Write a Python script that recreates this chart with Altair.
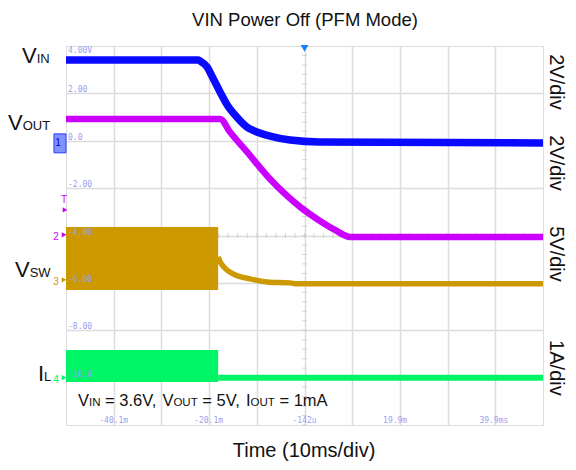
import altair as alt
import pandas as pd

# ---------------- data (time in ms, value in scope display units: 2 units / div) -------------
vin_t = [-50, -22.3, -21.9, -20.4, -19.2, -17.7, -16.2, -14.2, -12.1, -10.0, -7.2, -3.0, 3.2, 50]
vin_v = [3.41, 3.41, 3.37, 3.11, 2.65, 2.06, 1.51, 1.00, 0.58, 0.37, 0.20, 0.03, -0.05, -0.09]

vout_t = [-50, -17.7, -15.62, -12.05, -7.23, -4.09, -0.94, 3.25, 6.39, 9.54, 50]
vout_v = [0.92, 0.92, 0.371, -0.473, -1.612, -2.245, -2.793, -3.384, -3.764, -4.059, -4.059]

vsw_burst_t = [-50, -18.1]
vsw_burst_top = [-3.64, -3.64]
vsw_burst_bot = [-6.30, -6.30]
vsw_t = [-18.1, -17.7, -15.0, -11.4, -7.9, -3.0, -1.6, 50]
vsw_v = [-4.90, -5.11, -5.62, -5.83, -5.96, -6.00, -6.04, -6.04]

il_burst_t = [-50, -18.1]
il_burst_top = [-8.83, -8.83]
il_burst_bot = [-10.18, -10.18]
il_t = [-18.1, 50]
il_v = [-10.0, -10.0]

# scope graticule labels
ylab_text = ["4.00V", "2.00", "0.0", "-2.00", "-4.00", "-6.00", "-8.00", "-10.0"]
ylab_pos = [3.66, 2, 0, -2, -4, -6, -8, -10]
xlab_text = ["-40.1m", "-20.1m", "-142u", "19.9m", "39.9ms"]
xlab_pos = [-40.0, -20.1, 0.0, 19.0, 39.7]

grid_x = [-40, -30, -20, -10, 0, 10, 20, 30, 40]
grid_y = [2, 0, -2, -4, -6, -8, -10]
minor_y = [round(-12 + 0.4 * i, 2) for i in range(41)]
minor_x = [-50 + 2 * i for i in range(51)]

# channel labels (left), scale labels (right)
left_text = ["V", "IN", "V", "OUT", "V", "SW", "I", "L"]
left_size = [22, 13, 22, 13, 22, 13, 22, 13]
left_x = [-59.22, -56.14, -62.16, -59.08, -60.69, -57.61, -55.87, -54.59]
left_y = [3.283, 3.283, 0.456, 0.456, -5.747, -5.747, -10.135, -10.135]

right_text = ["2V/div", "2V/div", "5V/div", "1A/div"]
right_y = [2.48, -0.94, -4.78, -9.59]

cond_text = ["V", "IN", "= 3.6V,", "V", "OUT", "= 5V,", "I", "OUT", "= 1mA"]
cond_size = [16.5, 11.5, 16.5, 16.5, 11.5, 16.5, 16.5, 11.5, 16.5]
cond_x = [-47.48, -45.18, -41.80, -29.79, -27.48, -21.43, -12.28, -11.32, -5.26]

C_VIN, C_VOUT, C_VSW, C_IL = "#0a0aff", "#cc00ff", "#cc9900", "#00f566"
FONT = "Liberation Sans"
MONO = "DejaVu Sans Mono"

X = alt.Scale(domain=[-50, 50], nice=False, zero=False)
Y = alt.Scale(domain=[-12, 4], nice=False, zero=False)

xaxis = alt.Axis(values=grid_x, grid=True, labels=False, ticks=False, domain=False, title=None,
                 gridColor="#dcdcdc", gridWidth=1.5)
yaxis = alt.Axis(values=grid_y, grid=True, labels=False, ticks=False, domain=False, title=None,
                 gridColor="#dcdcdc", gridWidth=1.5)

base = alt.Chart(pd.DataFrame({"t": grid_x})).mark_point(opacity=0).encode(
    x=alt.X("t:Q", scale=X, axis=xaxis),
    y=alt.Y("t:Q", scale=Y, axis=yaxis),
)

ticks_v = alt.Chart(pd.DataFrame({"y": minor_y, "x": 0})).mark_tick(
    orient="horizontal", size=5, thickness=1, color="#c4c4c4").encode(
    x=alt.X("x:Q", scale=X), y=alt.Y("y:Q", scale=Y))
ticks_h = alt.Chart(pd.DataFrame({"x": minor_x, "y": -4})).mark_tick(
    orient="vertical", size=5, thickness=1, color="#c4c4c4").encode(
    x=alt.X("x:Q", scale=X), y=alt.Y("y:Q", scale=Y))

def line(t, v, color, width):
    return alt.Chart(pd.DataFrame({"t": t, "v": v})).mark_line(
        color=color, strokeWidth=width, strokeCap="butt", strokeJoin="round", clip=True,
        interpolate="monotone").encode(
        x=alt.X("t:Q", scale=X), y=alt.Y("v:Q", scale=Y), order="t:Q")

def band(t, top, bot, color):
    return alt.Chart(pd.DataFrame({"t": t, "a": top, "b": bot})).mark_area(
        color=color, opacity=1, clip=True).encode(
        x=alt.X("t:Q", scale=X), y=alt.Y("a:Q", scale=Y), y2="b:Q")

vsw_band = band(vsw_burst_t, vsw_burst_top, vsw_burst_bot, C_VSW)
vsw_line = line(vsw_t, vsw_v, C_VSW, 5.5)
il_band = band(il_burst_t, il_burst_top, il_burst_bot, C_IL)
il_line = line(il_t, il_v, C_IL, 6)
vout_line = line(vout_t, vout_v, C_VOUT, 6.5)
vin_line = line(vin_t, vin_v, C_VIN, 7.5)

ylabels = alt.Chart(pd.DataFrame({"t": ylab_text, "y": ylab_pos, "x": -49.58})).mark_text(
    align="left", baseline="alphabetic", dy=-1, font=MONO, fontSize=8, color="#9c9cf2").encode(
    x=alt.X("x:Q", scale=X), y=alt.Y("y:Q", scale=Y), text="t:N")
xlabels = alt.Chart(pd.DataFrame({"t": xlab_text, "x": xlab_pos, "y": -11.91})).mark_text(
    align="center", baseline="alphabetic", font=MONO, fontSize=8, color="#9c9cf2").encode(
    x=alt.X("x:Q", scale=X), y=alt.Y("y:Q", scale=Y), text="t:N")

# channel markers on the left edge
mk = pd.DataFrame({
    "x": [-50.21, -50.42, -50.42, -50.42],
    "y": [-2.92, -3.97, -5.87, -10.0],
    "c": [C_VOUT, C_VOUT, C_VSW, C_IL],
})
markers = alt.Chart(mk).mark_point(shape="triangle-right", filled=True, size=28, opacity=1).encode(
    x=alt.X("x:Q", scale=X), y=alt.Y("y:Q", scale=Y), color=alt.Color("c:N", scale=None))
mk_txt = pd.DataFrame({
    "t": ["T", "2", "3", "4", "1"],
    "x": [-50.42, -52.10, -52.10, -52.10, -51.68],
    "y": [-2.62, -4.19, -6.08, -10.22, -0.24],
    "c": [C_VOUT, C_VOUT, C_VSW, C_IL, "#0000c8"],
})
marker_text = alt.Chart(mk_txt).mark_text(font=FONT, fontSize=10, align="center", baseline="alphabetic").encode(
    x=alt.X("x:Q", scale=X), y=alt.Y("y:Q", scale=Y), text="t:N", color=alt.Color("c:N", scale=None))
ch1_box = alt.Chart(pd.DataFrame({"x": [-52.52], "x2": [-50.0], "y": [0.29], "y2": [-0.51]})).mark_rect(
    fill="#8191ff", stroke="#2a3cff", strokeWidth=1).encode(
    x=alt.X("x:Q", scale=X), x2="x2:Q", y=alt.Y("y:Q", scale=Y), y2="y2:Q")
trig = alt.Chart(pd.DataFrame({"x": [0], "y": [3.9]})).mark_point(
    shape="triangle-down", filled=True, size=60, color="#1a7fff", opacity=1).encode(
    x=alt.X("x:Q", scale=X), y=alt.Y("y:Q", scale=Y))

left = alt.Chart(pd.DataFrame({"t": left_text, "s": left_size, "x": left_x, "y": left_y})).mark_text(
    align="left", baseline="alphabetic", font=FONT, color="#111111").encode(
    x=alt.X("x:Q", scale=X), y=alt.Y("y:Q", scale=Y), text="t:N", size=alt.Size("s:Q", scale=None))
right = alt.Chart(pd.DataFrame({"t": right_text, "y": right_y, "x": 52.8})).mark_text(
    align="center", baseline="middle", angle=90, font=FONT, fontSize=20, color="#111111").encode(
    x=alt.X("x:Q", scale=X), y=alt.Y("y:Q", scale=Y), text="t:N")
cond = alt.Chart(pd.DataFrame({"t": cond_text, "s": cond_size, "x": cond_x, "y": -11.19})).mark_text(
    align="left", baseline="alphabetic", font=FONT, color="#111111").encode(
    x=alt.X("x:Q", scale=X), y=alt.Y("y:Q", scale=Y), text="t:N", size=alt.Size("s:Q", scale=None))
titles = alt.Chart(pd.DataFrame({"t": ["VIN Power Off (PFM Mode)", "Time (10ms/div)"],
                                 "x": [0.1, -0.1], "y": [4.86, -13.36], "s": [18.5, 20]})).mark_text(
    align="center", baseline="alphabetic", font=FONT, color="#111111").encode(
    x=alt.X("x:Q", scale=X), y=alt.Y("y:Q", scale=Y), text="t:N", size=alt.Size("s:Q", scale=None))

chart = alt.layer(
    base, ticks_v, ticks_h,
    vsw_band, vsw_line, il_band, il_line, vout_line, vin_line,
    ylabels, xlabels, ch1_box, markers, marker_text, trig,
    left, right, cond, titles,
).properties(
    width=477, height=379,
    padding={"left": 58, "top": 38, "right": 25, "bottom": 37},
    autosize=alt.AutoSizeParams(type="none"),
).configure_view(stroke="#404040", strokeWidth=1.5).configure(background="white")

chart.save("out.html", embed_options={"renderer": "svg", "actions": False})
